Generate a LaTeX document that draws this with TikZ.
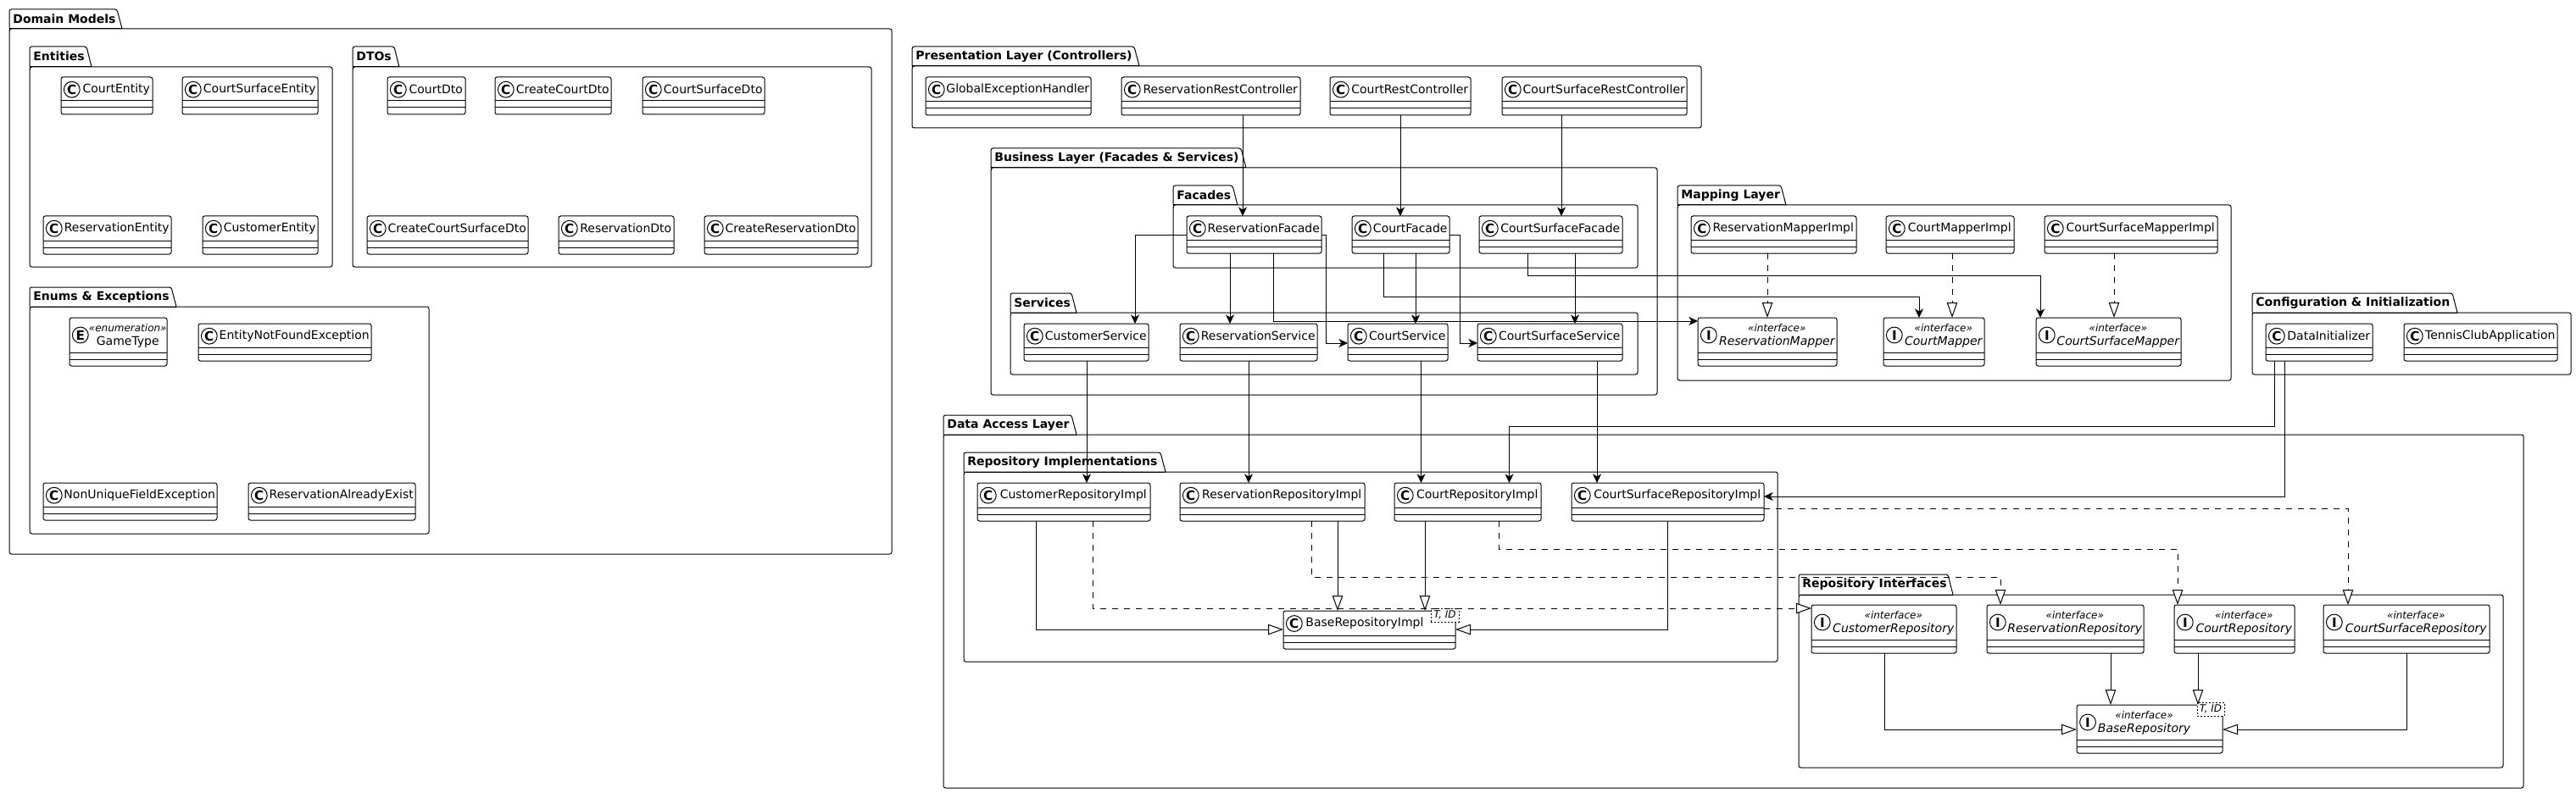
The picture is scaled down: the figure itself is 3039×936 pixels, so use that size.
\documentclass[tikz,border=0pt]{standalone}
\usepackage{fontspec}
\setmainfont{DejaVu Sans}
\usetikzlibrary{arrows.meta}
\tikzset{
  x=0.5pt,y=-0.5pt,
  lw/.style={line width=0.5pt,black},
  classnode/.style={draw,lw,fill=white,rectangle,rounded corners=1.25pt,inner sep=0pt,outer sep=0pt},
  pkgnode/.style={draw,lw,rectangle,rounded corners=1.25pt,inner sep=0pt,outer sep=0pt},
  badge/.style={draw,lw,circle,fill=white,minimum size=9.4pt,inner sep=0pt,font=\fontsize{7.6}{8}\selectfont\bfseries},
  classlabel/.style={inner sep=0pt,font=\fontsize{7}{8.4}\selectfont},
  ifacelabel/.style={inner sep=0pt,font=\fontsize{7}{8.4}\selectfont\itshape},
  stereolabel/.style={inner sep=0pt,font=\fontsize{6}{7}\selectfont\itshape},
  pkgtitle/.style={inner sep=0pt,anchor=west,font=\fontsize{7}{8.4}\selectfont\bfseries},
  genericbox/.style={draw,lw,fill=white,dash pattern=on 1pt off 1pt,inner sep=0pt,outer sep=0pt,font=\fontsize{6}{7}\selectfont\itshape},
  depline/.style={lw,-{Stealth[length=5.3pt,width=5pt,inset=1.5pt]}},
  implline/.style={lw,dash pattern=on 3.5pt off 3.5pt,-{Triangle[open,fill=white,length=9pt,width=6.2pt]}},
  genline/.style={lw,-{Triangle[open,fill=white,length=9pt,width=6.2pt]}},
}
% name, x1, tabtop, tabright, bodytop, x2, bottom, title
\newcommand{\umlpackage}[8]{%
  \pgfmathsetlengthmacro\bw{(#6-#2)*0.5pt}%
  \pgfmathsetlengthmacro\bh{(#7-#5)*0.5pt}%
  \pgfmathsetmacro\cx{(#2+#6)/2}\pgfmathsetmacro\cy{(#5+#7)/2}%
  \pgfmathsetmacro\tx{#4-6}\pgfmathsetmacro\ty{#3+11.5}\pgfmathsetmacro\lx{#2+4}\pgfmathsetmacro\by{#5+3}%
  \node[pkgnode,minimum width=\bw,minimum height=\bh] (#1) at (\cx,\cy) {};
  \draw[lw,rounded corners=1.25pt] (#2,#5) -- (#2,#3) -- (\tx,#3) -- (#4,#5);
  \draw[lw] (#2,\by) -- (#2,#5) -- (#4,#5);
  \node[pkgtitle] (#1-title) at (\lx,\ty) {#8};
}
\newcommand{\boxbase}[5]{%
  \pgfmathsetlengthmacro\bw{(#4-#2)*0.5pt}%
  \pgfmathsetlengthmacro\bh{(#5-#3)*0.5pt}%
  \pgfmathsetmacro\cx{(#2+#4)/2}\pgfmathsetmacro\cy{(#3+#5)/2}%
  \node[classnode,minimum width=\bw,minimum height=\bh] (#1) at (\cx,\cy) {};
  \pgfmathsetmacro\sb{#5-8}\pgfmathsetmacro\sa{#5-16}%
  \draw[lw] (#2,\sa) -- (#4,\sa) (#2,\sb) -- (#4,\sb);
  \pgfmathsetmacro\bx{#2+12.8}%
  \pgfmathsetmacro\tx{(#2+25.5+#4-3)/2}%
}
% name,x1,y1,x2,y2,text
\newcommand{\umlclass}[6]{%
  \boxbase{#1}{#2}{#3}{#4}{#5}%
  \pgfmathsetmacro\by{#3+14.7}%
  \node[badge] (#1-badge) at (\bx,\by) {C};
  \node[classlabel] (#1-name) at (\tx,\by) {#6};
}
% stereotyped: name,x1,y1,x2,y2,letter,stereotype,text,style
\newcommand{\umlstereo}[9]{%
  \boxbase{#1}{#2}{#3}{#4}{#5}%
  \pgfmathsetmacro\by{#3+20.5}\pgfmathsetmacro\sy{#3+12.5}\pgfmathsetmacro\ny{#3+29}%
  \node[badge] (#1-badge) at (\bx,\by) {#6};
  \node[stereolabel] (#1-stereo) at (\tx,\sy) {«#7»};
  \node[#9] (#1-name) at (\tx,\ny) {#8};
}
\begin{document}
\begin{tikzpicture}
\useasboundingbox (0,0) rectangle (3039,936);
% packages
\umlpackage{domain}{11}{11}{144}{34}{1052}{654}{Domain Models}
\umlpackage{entities}{35}{55}{108}{79}{392}{315}{Entities}
\umlpackage{dtos}{416}{55}{471}{79}{1028}{315}{DTOs}
\umlpackage{enums}{35}{339}{208}{362}{506}{630}{Enums \& Exceptions}
\umlpackage{presentation}{1076}{55}{1344}{78}{2007}{151}{Presentation Layer (Controllers)}
\umlpackage{business}{1169}{175}{1470}{198}{1955}{466}{Business Layer (Facades \& Services)}
\umlpackage{facades}{1384}{219}{1460}{242}{1932}{316}{Facades}
\umlpackage{services}{1192}{346}{1270}{369}{1932}{442}{Services}
\umlpackage{mapping}{1979}{219}{2107}{242}{2632}{449}{Mapping Layer}
\umlpackage{config}{2657}{346}{2899}{369}{3033}{442}{Configuration \& Initialization}
\umlpackage{dal}{1113}{490}{1270}{513}{2977}{930}{Data Access Layer}
\umlpackage{repoimpl}{1137}{534}{1375}{557}{2097}{781}{Repository Implementations}
\umlpackage{repoif}{2122}{678}{2304}{702}{2953}{906}{Repository Interfaces}
% entities
\umlclass{CourtEntity}{72}{91}{180}{135}{CourtEntity}
\umlclass{CourtSurfaceEntity}{215}{91}{375}{135}{CourtSurfaceEntity}
\umlclass{ReservationEntity}{51}{255}{202}{300}{ReservationEntity}
\umlclass{CustomerEntity}{239}{255}{375}{300}{CustomerEntity}
% dtos
\umlclass{CourtDto}{457}{91}{549}{135}{CourtDto}
\umlclass{CreateCourtDto}{584}{91}{721}{135}{CreateCourtDto}
\umlclass{CourtSurfaceDto}{758}{91}{902}{135}{CourtSurfaceDto}
\umlclass{CreateCourtSurfaceDto}{433}{255}{623}{300}{CreateCourtSurfaceDto}
\umlclass{ReservationDto}{659}{255}{795}{300}{ReservationDto}
\umlclass{CreateReservationDto}{831}{255}{1012}{300}{CreateReservationDto}
% enums
\umlstereo{GameType}{82}{375}{197}{432}{E}{enumeration}{GameType}{classlabel}
\umlclass{EntityNotFoundException}{234}{382}{438}{426}{EntityNotFoundException}
\umlclass{NonUniqueFieldException}{51}{570}{256}{614}{NonUniqueFieldException}
\umlclass{ReservationAlreadyExist}{293}{570}{490}{614}{ReservationAlreadyExist}
% controllers
\umlclass{GlobalExceptionHandler}{1092}{91}{1287}{136}{GlobalExceptionHandler}
\umlclass{ReservationRestController}{1323}{91}{1534}{136}{ReservationRestController}
\umlclass{CourtRestController}{1569}{91}{1735}{136}{CourtRestController}
\umlclass{CourtSurfaceRestController}{1772}{91}{1990}{136}{CourtSurfaceRestController}
% facades
\umlclass{ReservationFacade}{1400}{255}{1559}{299}{ReservationFacade}
\umlclass{CourtFacade}{1595}{255}{1710}{299}{CourtFacade}
\umlclass{CourtSurfaceFacade}{1745}{255}{1914}{299}{CourtSurfaceFacade}
% services
\umlclass{CustomerService}{1208}{382}{1355}{426}{CustomerService}
\umlclass{ReservationService}{1392}{382}{1554}{426}{ReservationService}
\umlclass{CourtService}{1590}{382}{1708}{426}{CourtService}
\umlclass{CourtSurfaceService}{1743}{382}{1914}{426}{CourtSurfaceService}
% mapping
\umlclass{ReservationMapperImpl}{1995}{255}{2190}{299}{ReservationMapperImpl}
\umlclass{CourtMapperImpl}{2225}{255}{2376}{299}{CourtMapperImpl}
\umlclass{CourtSurfaceMapperImpl}{2412}{255}{2616}{299}{CourtSurfaceMapperImpl}
\umlstereo{ReservationMapper}{2003}{375}{2167}{432}{I}{interface}{ReservationMapper}{ifacelabel}
\umlstereo{CourtMapper}{2222}{375}{2341}{432}{I}{interface}{CourtMapper}{ifacelabel}
\umlstereo{CourtSurfaceMapper}{2402}{375}{2573}{432}{I}{interface}{CourtSurfaceMapper}{ifacelabel}
% config
\umlclass{DataInitializer}{2673}{382}{2799}{426}{DataInitializer}
\umlclass{TennisClubApplication}{2836}{382}{3017}{426}{TennisClubApplication}
% repository impl
\umlclass{CustomerRepositoryImpl}{1153}{570}{1357}{615}{CustomerRepositoryImpl}
\umlclass{ReservationRepositoryImpl}{1392}{570}{1610}{615}{ReservationRepositoryImpl}
\umlclass{CourtRepositoryImpl}{1645}{570}{1818}{615}{CourtRepositoryImpl}
\umlclass{CourtSurfaceRepositoryImpl}{1854}{570}{2081}{615}{CourtSurfaceRepositoryImpl}
\boxbase{BaseRepositoryImpl}{1514}{721}{1717}{766}
\node[badge] (BaseRepositoryImpl-badge) at (1526.8,736) {C};
\node[classlabel,anchor=west] (BaseRepositoryImpl-name) at (1540,736) {BaseRepositoryImpl};
\node[genericbox,minimum width=16.5pt,minimum height=8pt] (BaseRepositoryImpl-generic) at (1704.5,726) {T, ID};
% repository interfaces
\umlstereo{CustomerRepository}{2137}{714}{2308}{771}{I}{interface}{CustomerRepository}{ifacelabel}
\umlstereo{ReservationRepository}{2344}{714}{2529}{771}{I}{interface}{ReservationRepository}{ifacelabel}
\umlstereo{CourtRepository}{2565}{714}{2707}{771}{I}{interface}{CourtRepository}{ifacelabel}
\umlstereo{CourtSurfaceRepository}{2741}{714}{2937}{771}{I}{interface}{CourtSurfaceRepository}{ifacelabel}
\boxbase{BaseRepository}{2450}{832}{2622}{889}
\node[badge] (BaseRepository-badge) at (2463,852.5) {I};
\node[stereolabel] (BaseRepository-stereo) at (2529.5,844.5) {«interface»};
\node[ifacelabel] (BaseRepository-name) at (2529.5,861) {BaseRepository};
\node[genericbox,minimum width=16pt,minimum height=8pt] (BaseRepository-generic) at (2608,837) {T, ID};
% controllers to facades
\draw[depline] (ReservationRestController.south -| 1466,0) -- (ReservationFacade.north -| 1466,0);
\draw[depline] (CourtRestController.south -| 1652,0) -- (CourtFacade.north -| 1652,0);
\draw[depline] (CourtSurfaceRestController.south -| 1842,0) -- (CourtSurfaceFacade.north -| 1842,0);
% facades to services
\draw[depline] (ReservationFacade.west |- 0,277) -| (CustomerService.north -| 1339,0);
\draw[depline] (ReservationFacade.south -| 1451,0) -- (ReservationService.north -| 1451,0);
\draw[depline] (ReservationFacade.east |- 0,277) -- (1564,277) |- (CourtService.west |- 0,405);
\draw[depline] (CourtFacade.south -| 1670,0) -- (CourtService.north -| 1670,0);
\draw[depline] (CourtFacade.east |- 0,277) -- (1722,277) |- (CourtSurfaceService.west |- 0,405);
\draw[depline] (CourtSurfaceFacade.south -| 1858,0) -- (CourtSurfaceService.north -| 1858,0);
% facades to mappers
\draw[depline] (ReservationFacade.south -| 1502,0) |- (ReservationMapper.west |- 0,379);
\draw[depline] (CourtFacade.south -| 1632,0) -- (1632,350) -| (CourtMapper.north -| 2264,0);
\draw[depline] (CourtSurfaceFacade.south -| 1802,0) -- (1802,325) -| (CourtSurfaceMapper.north -| 2407,0);
% mapper implementations
\draw[implline] (ReservationMapperImpl.south -| 2085,0) -- (ReservationMapper.north -| 2085,0);
\draw[implline] (CourtMapperImpl.south -| 2303,0) -- (CourtMapper.north -| 2303,0);
\draw[implline] (CourtSurfaceMapperImpl.south -| 2494,0) -- (CourtSurfaceMapper.north -| 2494,0);
% services to repositories
\draw[depline] (CustomerService.south -| 1282,0) -- (CustomerRepositoryImpl.north -| 1282,0);
\draw[depline] (ReservationService.south -| 1473,0) -- (ReservationRepositoryImpl.north -| 1473,0);
\draw[depline] (CourtService.south -| 1676.5,0) -- (CourtRepositoryImpl.north -| 1676.5,0);
\draw[depline] (CourtSurfaceService.south -| 1884,0) -- (CourtSurfaceRepositoryImpl.north -| 1884,0);
% data initializer
\draw[depline] (DataInitializer.south -| 2683,0) -- (2683,503) -| (CourtRepositoryImpl.north -| 1780.5,0);
\draw[depline] (DataInitializer.south -| 2695,0) |- (CourtSurfaceRepositoryImpl.east |- 0,586);
% impl to interface
\draw[implline] (CourtSurfaceRepositoryImpl.east |- 0,600) -| (CourtSurfaceRepository.north -| 2770,0);
\draw[implline] (CourtRepositoryImpl.south -| 1768,0) -- (1768,648) -| (CourtRepository.north -| 2569,0);
\draw[implline] (ReservationRepositoryImpl.south -| 1547,0) -- (1547,681) -| (ReservationRepository.north -| 2360,0);
\draw[implline] (CustomerRepositoryImpl.south -| 1289,0) |- (CustomerRepository.west |- 0,718);
% impl to base impl
\draw[genline] (CustomerRepositoryImpl.south -| 1222,0) |- (BaseRepositoryImpl.west |- 0,743);
\draw[genline] (ReservationRepositoryImpl.south -| 1578,0) -- (BaseRepositoryImpl.north -| 1578,0);
\draw[genline] (CourtRepositoryImpl.south -| 1681,0) -- (BaseRepositoryImpl.north -| 1681,0);
\draw[genline] (CourtSurfaceRepositoryImpl.south -| 1967,0) |- (BaseRepositoryImpl.east |- 0,743);
% interface to base
\draw[genline] (CustomerRepository.south -| 2223,0) |- (BaseRepository.west |- 0,861);
\draw[genline] (ReservationRepository.south -| 2490,0) -- (BaseRepository.north -| 2490,0);
\draw[genline] (CourtRepository.south -| 2593,0) -- (BaseRepository.north -| 2593,0);
\draw[genline] (CourtSurfaceRepository.south -| 2839.5,0) |- (BaseRepository.east |- 0,861);
\end{tikzpicture}
\end{document}
